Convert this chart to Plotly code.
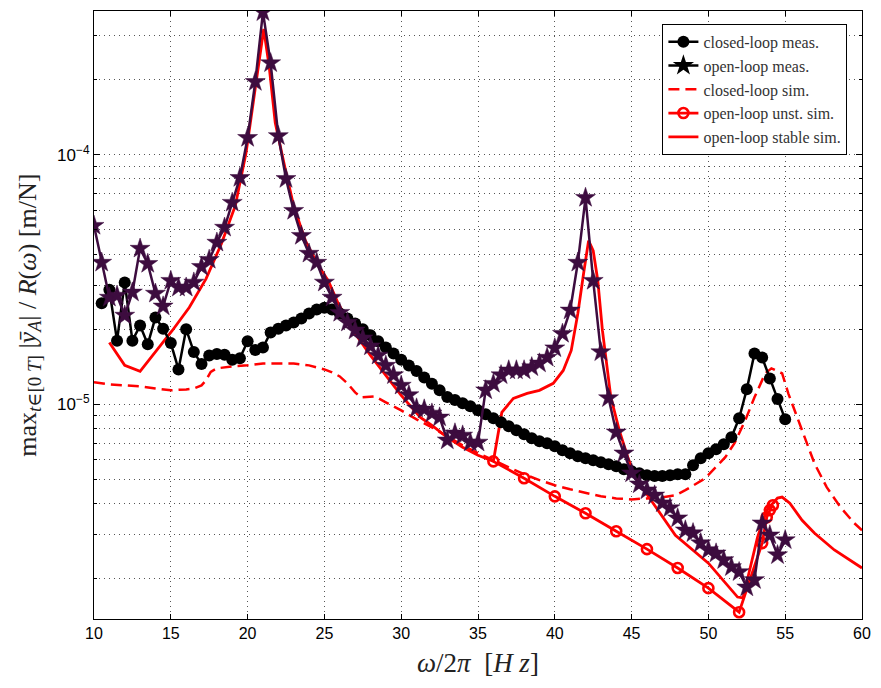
import numpy as np
import plotly.graph_objects as go

# ---------------- data ----------------
cl_meas_f = np.arange(10.5, 55.01, 0.5)
cl_meas_v = [2.54e-5, 2.88e-5, 1.80e-5, 3.08e-5, 1.80e-5, 2.07e-5, 1.74e-5, 2.23e-5, 2.01e-5, 1.76e-5,
             1.38e-5, 2.00e-5, 1.62e-5, 1.45e-5, 1.57e-5, 1.59e-5, 1.58e-5, 1.51e-5, 1.53e-5, 1.79e-5,
             1.65e-5, 1.69e-5, 1.94e-5, 2.01e-5, 2.07e-5, 2.13e-5, 2.21e-5, 2.31e-5, 2.40e-5, 2.44e-5,
             2.40e-5, 2.31e-5, 2.21e-5, 2.11e-5, 2.00e-5, 1.89e-5, 1.79e-5, 1.69e-5, 1.60e-5, 1.51e-5,
             1.43e-5, 1.36e-5, 1.28e-5, 1.21e-5, 1.14e-5, 1.07e-5, 1.04e-5, 1.01e-5, 9.82e-6, 9.46e-6,
             9.12e-6, 8.79e-6, 8.48e-6, 8.17e-6, 7.87e-6, 7.59e-6, 7.31e-6, 7.11e-6, 6.99e-6, 6.79e-6,
             6.55e-6, 6.37e-6, 6.19e-6, 6.08e-6, 5.97e-6, 5.86e-6, 5.75e-6, 5.65e-6, 5.49e-6, 5.39e-6,
             5.30e-6, 5.20e-6, 5.16e-6, 5.16e-6, 5.20e-6, 5.25e-6, 5.25e-6, 5.70e-6, 6.08e-6, 6.37e-6,
             6.61e-6, 6.92e-6, 7.38e-6, 8.79e-6, 1.15e-5, 1.60e-5, 1.54e-5, 1.27e-5, 1.05e-5, 8.71e-6]

ol_meas_f = np.arange(10.0, 55.01, 0.5)
ol_meas_v = [5.20e-5, 3.70e-5, 2.68e-5, 2.73e-5, 2.27e-5, 2.81e-5, 4.21e-5, 3.66e-5, 2.78e-5, 2.47e-5,
             3.13e-5, 2.94e-5, 2.94e-5, 3.08e-5, 3.56e-5, 3.80e-5, 4.45e-5, 5.11e-5, 6.43e-5, 8.09e-5,
             1.17e-4, 1.96e-4, 3.73e-4, 2.33e-4, 1.19e-4, 8.01e-5, 5.97e-5, 4.74e-5, 4.02e-5, 3.70e-5,
             3.08e-5, 2.68e-5, 2.33e-5, 2.13e-5, 1.98e-5, 1.84e-5, 1.71e-5, 1.57e-5, 1.43e-5, 1.31e-5,
             1.19e-5, 1.09e-5, 9.64e-6, 9.55e-6, 9.20e-6, 8.87e-6, 7.18e-6, 7.66e-6, 7.51e-6, 7.04e-6,
             7.04e-6, 1.14e-5, 1.21e-5, 1.31e-5, 1.37e-5, 1.37e-5, 1.37e-5, 1.41e-5, 1.46e-5, 1.54e-5,
             1.68e-5, 1.92e-5, 2.38e-5, 3.70e-5, 6.73e-5, 3.13e-5, 1.62e-5, 1.06e-5, 7.73e-6, 6.37e-6,
             5.30e-6, 4.79e-6, 4.53e-6, 4.32e-6, 4.02e-6, 3.84e-6, 3.50e-6, 3.13e-6, 3.05e-6, 2.78e-6,
             2.61e-6, 2.53e-6, 2.38e-6, 2.23e-6, 2.13e-6, 1.85e-6, 1.98e-6, 3.34e-6, 2.99e-6, 2.49e-6,
             2.86e-6]

cl_sim_f = [10, 11, 12, 13, 14, 15, 16, 16.5, 17, 17.3, 17.6, 18, 19, 20, 21, 22, 23, 24, 25, 25.5, 26,
            26.5, 27, 27.4, 28, 28.3, 29, 30, 31, 32, 33, 34, 35, 36, 37, 38, 39, 40, 41, 42, 43,
            44, 45, 46, 47, 47.85, 48.5, 49.8, 51.1, 51.7, 52.4, 53, 53.7, 54.1, 54.8, 55.2, 56.1,
            56.9, 57.7, 58.6, 59.5, 60]
cl_sim_v = [1.225e-5, 1.202e-5, 1.191e-5, 1.180e-5, 1.158e-5, 1.138e-5, 1.148e-5, 1.158e-5, 1.191e-5,
            1.250e-5, 1.350e-5, 1.394e-5, 1.419e-5, 1.433e-5, 1.458e-5, 1.458e-5, 1.458e-5, 1.433e-5, 1.380e-5,
            1.343e-5, 1.294e-5, 1.214e-5, 1.117e-5, 1.067e-5, 1.076e-5, 1.076e-5, 1.019e-5, 9.46e-6,
            8.71e-6, 8.09e-6, 7.44e-6, 6.85e-6, 6.37e-6, 5.97e-6, 5.60e-6, 5.25e-6, 4.97e-6, 4.74e-6,
            4.57e-6, 4.41e-6, 4.28e-6, 4.20e-6, 4.16e-6, 4.20e-6, 4.24e-6, 4.32e-6, 4.53e-6, 5.06e-6,
            6.14e-6, 6.99e-6, 8.63e-6, 1.067e-5, 1.331e-5, 1.394e-5, 1.331e-5, 1.107e-5, 7.87e-6,
            5.81e-6, 4.66e-6, 3.87e-6, 3.34e-6, 3.13e-6]

ol_unst_f = [36, 38, 40, 42, 44, 46, 48, 50, 52, 53.5, 53.8, 54.0, 54.2]
ol_unst_v = [5.91e-6, 5.06e-6, 4.28e-6, 3.66e-6, 3.10e-6, 2.63e-6, 2.21e-6, 1.835e-6, 1.47e-6,
             2.78e-6, 3.53e-6, 3.77e-6, 3.94e-6]

ol_stab_f = [11, 12, 13, 14.1, 15.1, 16.2, 17.3, 18.3, 19.2, 19.9, 20.5, 21.05, 21.4, 21.8, 22.5,
             23.0, 23.76, 24.6, 25.25, 25.9, 27, 28, 29, 30, 31.25, 32, 33, 34, 35, 36, 36.55,
             37.3, 38.2, 39.0, 39.9, 40.55, 41.07, 41.5, 41.9, 42.2, 42.5, 42.8, 43.1, 43.65,
             44.2, 44.75, 45.27, 46.5, 47.85, 50.0, 51.9, 52.25, 52.8, 53.2, 53.8, 54.5, 54.8,
             55.3, 56.1, 56.9, 58.2, 60]
ol_stab_v = [1.770e-5, 1.433e-5, 1.355e-5, 1.645e-5, 1.977e-5, 2.444e-5, 3.19e-5, 4.41e-5, 6.25e-5,
             1.019e-4, 1.835e-4, 3.19e-4, 2.27e-4, 1.343e-4, 8.48e-5, 6.25e-5, 4.53e-5, 3.60e-5,
             3.13e-5, 2.535e-5, 1.923e-5, 1.571e-5, 1.307e-5, 1.086e-5, 8.87e-6, 8.24e-6, 7.38e-6,
             6.73e-6, 6.25e-6, 5.91e-6, 9.28e-6, 1.057e-5, 1.107e-5, 1.138e-5, 1.214e-5, 1.367e-5,
             1.645e-5, 2.311e-5, 3.43e-5, 4.53e-5, 4.13e-5, 3.13e-5, 1.977e-5, 1.067e-5, 7.87e-6,
             6.14e-6, 5.06e-6, 3.94e-6, 2.99e-6, 2.31e-6, 1.69e-6, 1.676e-6, 2.31e-6, 2.94e-6,
             3.77e-6, 4.21e-6, 4.25e-6, 4.02e-6, 3.43e-6, 3.05e-6, 2.61e-6, 2.21e-6]

x_ticks = [10, 15, 20, 25, 30, 35, 40, 45, 50, 55, 60]
y_ticks = [1e-5, 1e-4]
y_ticktext = ["10<sup>\u22125</sup>", "10<sup>\u22124</sup>"]
y_minor = [2e-6, 3e-6, 4e-6, 5e-6, 6e-6, 7e-6, 8e-6, 9e-6,
           2e-5, 3e-5, 4e-5, 5e-5, 6e-5, 7e-5, 8e-5, 9e-5, 2e-4, 3e-4]

RED = "#ff0000"
PURPLE = "#3d0c3f"
BLACK = "#000000"

fig = go.Figure()

fig.add_trace(go.Scatter(x=ol_stab_f, y=ol_stab_v, mode="lines", name="open-loop stable sim.",
                         line=dict(color=RED, width=2.8), legendrank=5))
fig.add_trace(go.Scatter(x=ol_unst_f, y=ol_unst_v, mode="lines+markers", name="open-loop unst. sim.",
                         line=dict(color=RED, width=2.8),
                         marker=dict(symbol="circle-open", size=10, color=RED, line=dict(width=2.6)),
                         legendrank=4))
fig.add_trace(go.Scatter(x=cl_sim_f, y=cl_sim_v, mode="lines", name="closed-loop sim.",
                         line=dict(color=RED, width=2.5, dash="11px,6px"), legendrank=3))
fig.add_trace(go.Scatter(x=cl_meas_f, y=cl_meas_v, mode="lines+markers", name="closed-loop meas.",
                         line=dict(color=BLACK, width=2.5),
                         marker=dict(symbol="circle", size=12, color=BLACK),
                         legendrank=1))
fig.add_trace(go.Scatter(x=ol_meas_f, y=ol_meas_v, mode="lines+markers", showlegend=False,
                         line=dict(color=PURPLE, width=2.5),
                         marker=dict(symbol="star", size=15, color=PURPLE, line=dict(width=0.5, color=PURPLE))))
# legend entry for open-loop measurements (black in the legend)
fig.add_trace(go.Scatter(x=[None], y=[None], mode="lines+markers", name="open-loop meas.",
                         line=dict(color=BLACK, width=2.5),
                         marker=dict(symbol="star", size=17, color=BLACK),
                         legendrank=2))

grid_dash = "1px,4px"
grid_col = "#555555"

fig.update_xaxes(range=[10, 60], tickmode="array", tickvals=x_ticks,
                 ticks="inside", ticklen=5, tickcolor="black",
                 showline=True, linecolor="black", linewidth=1, mirror="ticks",
                 showgrid=True, gridcolor=grid_col, griddash=grid_dash, gridwidth=1,
                 zeroline=False,
                 tickfont=dict(family="Liberation Sans, Arial", size=16, color="black"))
fig.update_yaxes(type="log", range=[-5.86, -3.424], tickmode="array",
                 tickvals=y_ticks, ticktext=y_ticktext,
                 ticks="inside", ticklen=6, tickcolor="black",
                 showline=True, linecolor="black", linewidth=1, mirror="ticks",
                 showgrid=True, gridcolor=grid_col, griddash=grid_dash, gridwidth=1,
                 zeroline=False,
                 minor=dict(tickmode="array", tickvals=y_minor, ticks="inside", ticklen=3,
                            tickcolor="black", showgrid=True, gridcolor=grid_col,
                            griddash=grid_dash, gridwidth=1),
                 tickfont=dict(family="Liberation Sans, Arial", size=17, color="black"))

fig.add_annotation(xref="paper", yref="paper", x=-0.085, y=0.5, textangle=-90,
                   showarrow=False, xanchor="center", yanchor="middle",
                   text="max<sub><span style='font-size:19px'><i>t</i>\u2208[0 <i>T</i>]</span></sub> |<i>\u0233</i><sub><i>A</i></sub>| / <i>R</i>(<i>\u03c9</i>) [m/N]",
                   font=dict(family="Liberation Serif, DejaVu Serif", size=26, color="#222"))
fig.add_annotation(xref="paper", yref="paper", x=0.5, y=-0.072,
                   showarrow=False, xanchor="center", yanchor="middle",
                   text="<i>\u03c9</i>/2<i>\u03c0</i>  [<i>H z</i>]",
                   font=dict(family="Liberation Serif, DejaVu Serif", size=27, color="#222"))

fig.update_layout(width=881, height=688,
                  margin=dict(l=94, r=13, t=10, b=69),
                  plot_bgcolor="white", paper_bgcolor="white",
                  legend=dict(x=0.981, y=0.979, xanchor="right", yanchor="top",
                              bgcolor="white", bordercolor="black", borderwidth=1,
                              font=dict(family="Liberation Serif, DejaVu Serif", size=16, color="#333"),
                              tracegroupgap=0, traceorder="normal"))

fig.write_html("out.html")
